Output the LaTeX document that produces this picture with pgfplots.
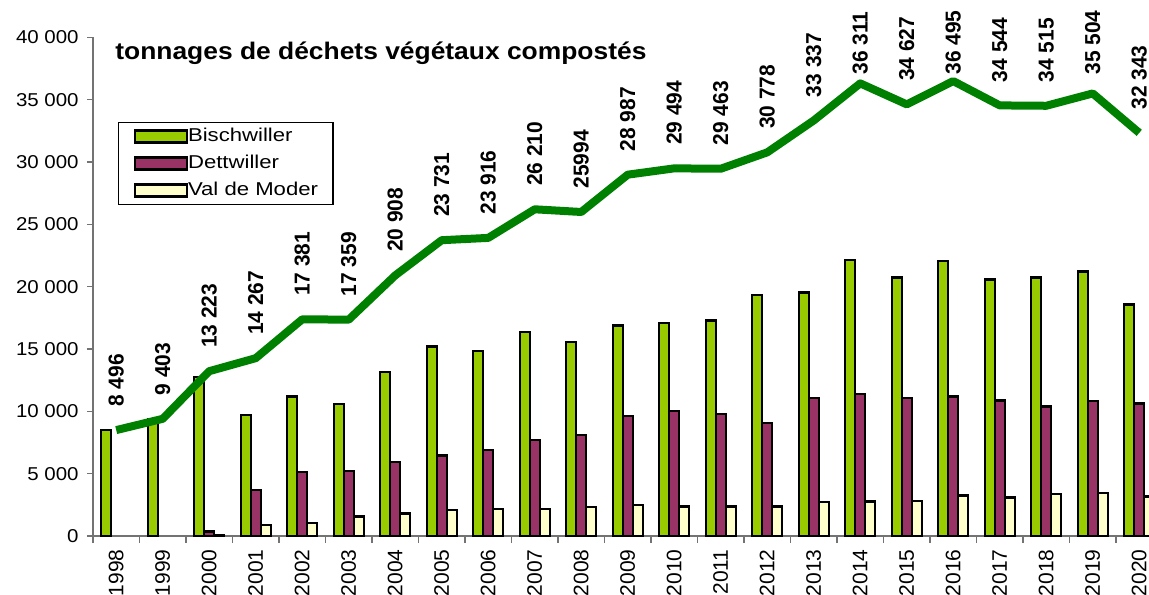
\documentclass[border=0pt]{standalone}
\usepackage{fontspec}
\setmainfont{Liberation Sans}
\newfontfamily\tickfont{Liberation Sans}[FakeStretch=1.1]
\newfontfamily\legfont{Liberation Sans}[FakeStretch=1.19]
\newfontfamily\yearfont{Liberation Sans}[FakeStretch=1.0]
\newfontfamily\titlefont{Liberation Sans}[FakeStretch=1.1]
\newfontfamily\valfont{Liberation Sans}[FakeStretch=0.97]
\usepackage{pgfplots}
\pgfplotsset{compat=1.18}
\usepackage{pgfplotstable}
\definecolor{cB}{HTML}{99CC00}
\definecolor{cD}{HTML}{993366}
\definecolor{cV}{HTML}{FFFFCC}
\definecolor{cL}{HTML}{008000}
\pgfplotstableread[col sep=comma]{
x,year,B,D,V,tot,ly,lab
0,1998,8496,nan,nan,8496,10341,8 496
1,1999,9403,nan,nan,9403,11248,9 403
2,2000,12773,350,100,13223,15068,13 223
3,2001,9700,3700,867,14267,16112,14 267
4,2002,11200,5150,1031,17381,19226,17 381
5,2003,10600,5200,1559,17359,19204,17 359
6,2004,13150,5950,1808,20908,22753,20 908
7,2005,15200,6450,2081,23731,25576,23 731
8,2006,14850,6900,2166,23916,25761,23 916
9,2007,16350,7700,2160,26210,28055,26 210
10,2008,15550,8100,2344,25994,27839,25994
11,2009,16880,9620,2487,28987,30832,28 987
12,2010,17100,10020,2374,29494,31339,29 494
13,2011,17300,9800,2363,29463,31308,29 463
14,2012,19350,9050,2378,30778,32623,30 778
15,2013,19550,11080,2707,33337,35182,33 337
16,2014,22150,11380,2781,36311,36981,36 311
17,2015,20750,11060,2817,34627,36472,34 627
18,2016,22080,11180,3235,36495,36981,36 495
19,2017,20570,10870,3104,34544,36389,34 544
20,2018,20750,10400,3365,34515,36360,34 515
21,2019,21230,10830,3444,35504,36981,35 504
22,2020,18560,10620,3163,32343,34188,32 343
}\data
\begin{document}
\begin{tikzpicture}
\begin{axis}[
  scale only axis, width=528pt, height=249.3pt,
  xmin=-0.5, xmax=22.21, ymin=0, ymax=40000,
  scaled y ticks=false,
  axis x line*=bottom, axis y line*=left,
  axis line style={black!55, line width=0.6pt},
  xtick={0,...,22},
  xticklabels={1998,1999,2000,2001,2002,2003,2004,2005,2006,2007,2008,2009,2010,2011,2012,2013,2014,2015,2016,2017,2018,2019,2020},
  major x tick style={draw=none},
  minor xtick={-0.5,0.5,...,22.5},
  minor x tick style={black!55, line width=0.6pt},
  minor tick length=3.5pt,
  ytick={0,5000,...,40000},
  yticklabels={0,5 000,10 000,15 000,20 000,25 000,30 000,35 000,40 000},
  y tick style={black!55, line width=0.6pt},
  major tick length=3pt,
  tick align=outside,
  xticklabel style={font=\yearfont\fontsize{10.5}{11}\selectfont, rotate=90, anchor=east, inner xsep=3.5pt, inner ysep=0pt, text=black},
  yticklabel style={font=\tickfont\fontsize{9.3}{10}\selectfont, inner xsep=4pt, text=black},
  legend image code/.code={\draw[#1] (0pt,-3pt) rectangle (26pt,3pt);},
  legend cell align=left,
  legend style={at={(0.0237,0.830)}, anchor=north west, draw=black, line width=0.6pt,
    font=\legfont\fontsize{9.3}{10}\selectfont,
    inner xsep=7.5pt, inner ysep=2.6pt, row sep=4.9pt,
    nodes={inner xsep=0pt, inner ysep=0pt, text height=6.7pt, text depth=1.9pt},
    /tikz/every even column/.append style={column sep=3.5pt}},
]
\coordinate (O) at (rel axis cs:0,0);
\addplot[ybar, bar width=5pt, bar shift=-5pt, fill=cB, draw=black, line width=1.2pt] table[x=x,y=B]{\data};
\addlegendentry{Bischwiller}
\addplot[ybar, bar width=5pt, bar shift=0pt, fill=cD, draw=black, line width=1.2pt] table[x=x,y=D]{\data};
\addlegendentry{Dettwiller}
\addplot[ybar, bar width=5pt, bar shift=5pt, fill=cV, draw=black, line width=1.2pt] table[x=x,y=V]{\data};
\addlegendentry{Val de Moder}
\addplot[cL, line width=4pt, mark=none, forget plot, line join=round] table[x=x,y=tot]{\data};
\addplot[draw=none, mark=none, forget plot, nodes near coords, point meta=explicit symbolic,
  nodes near coords style={font=\valfont\bfseries\fontsize{10.8}{12}\selectfont, rotate=90, anchor=west, inner sep=0pt, text=black}]
  table[x=x,y=ly,meta=lab]{\data};
\node[font=\titlefont\bfseries\fontsize{12}{13}\selectfont, anchor=base west, inner sep=0pt] at (rel axis cs:0.0208,0.955) {tonnages de déchets végétaux compostés};
\end{axis}
\pgfresetboundingbox
\path[use as bounding box] ([shift={(-46.5pt,-29pt)}]O) rectangle ([shift={(528pt,268pt)}]O);
\end{tikzpicture}
\end{document}
